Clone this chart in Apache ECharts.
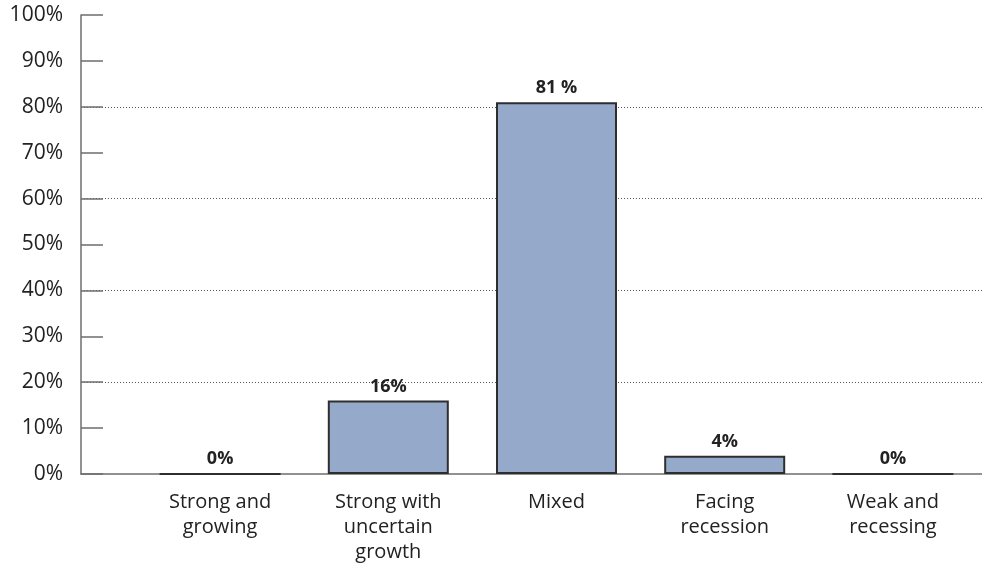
<!DOCTYPE html>
<html>
<head>
<meta charset="utf-8">
<script src="https://cdn.jsdelivr.net/npm/echarts@6/dist/echarts.min.js"></script>
<style>
  html, body { margin: 0; padding: 0; background: #fff; }
  #chart { width: 982px; height: 569px; }
</style>
</head>
<body>
<div id="chart"></div>
<script>
// Outlook categories and share of responses (%)
const categories = ['Strong and\ngrowing', 'Strong with\nuncertain\ngrowth', 'Mixed', 'Facing\nrecession', 'Weak and\nrecessing'];
const shares = [0, 16, 81, 4, 0];
const valueLabels = ['0%', '16%', '81 %', '4%', '0%'];
const yTicks = [0, 10, 20, 30, 40, 50, 60, 70, 80, 90, 100];

const FONT = '"Open Sans", "Noto Sans", sans-serif';
const AXIS_GREY = '#6e6e6e';
const GRID_DOT = '#555';

// dotted gridlines only at 20/40/60/80
const splitColors = yTicks.map(v => (v > 0 && v < 100 && v % 20 === 0) ? GRID_DOT : 'rgba(0,0,0,0)');

const chart = echarts.init(document.getElementById('chart'), null, { renderer: 'canvas' });

chart.setOption({
  animation: false,
  backgroundColor: '#fff',
  grid: [
    // frame grid: y axis, ticks, gridlines and baseline
    { left: 81, right: 0, top: 15, bottom: 95 },
    // bar grid
    { left: 136, right: 5, top: 15, bottom: 95 }
  ],
  xAxis: [
    {
      gridIndex: 0, type: 'value', min: 0, max: 1,
      axisLine: { show: true, lineStyle: { color: AXIS_GREY, width: 1.5 } },
      axisTick: { show: false }, axisLabel: { show: false }, splitLine: { show: false }
    },
    {
      gridIndex: 1, type: 'category', data: categories,
      axisLine: { show: false }, axisTick: { show: false }, splitLine: { show: false },
      axisLabel: {
        color: '#222', fontFamily: FONT, fontSize: 20, lineHeight: 25, margin: 16,
        interval: 0, align: 'center'
      }
    }
  ],
  yAxis: [
    {
      gridIndex: 0, type: 'value', min: 0, max: 100, interval: 10,
      axisLine: { show: true, lineStyle: { color: AXIS_GREY, width: 1.5 } },
      axisTick: { show: true, inside: true, length: 22, lineStyle: { color: AXIS_GREY, width: 1.5 } },
      axisLabel: {
        color: '#222', fontFamily: FONT, fontSize: 21, margin: 18,
        formatter: v => v + '%'
      },
      splitLine: { show: true, lineStyle: { color: splitColors, width: 1, type: [1, 2] } }
    },
    {
      gridIndex: 1, type: 'value', min: 0, max: 100, interval: 10, show: false,
      splitLine: { show: false }
    }
  ],
  series: [
    {
      type: 'bar',
      xAxisIndex: 1, yAxisIndex: 1,
      data: shares,
      barWidth: 121,
      itemStyle: { color: '#95aacb', borderColor: '#2e2e2e', borderWidth: 2 },
      label: {
        show: true, position: 'top', distance: 5,
        color: '#222', fontFamily: FONT, fontSize: 18, fontWeight: 'bold',
        formatter: p => valueLabels[p.dataIndex]
      }
    }
  ]
});
</script>
</body>
</html>
